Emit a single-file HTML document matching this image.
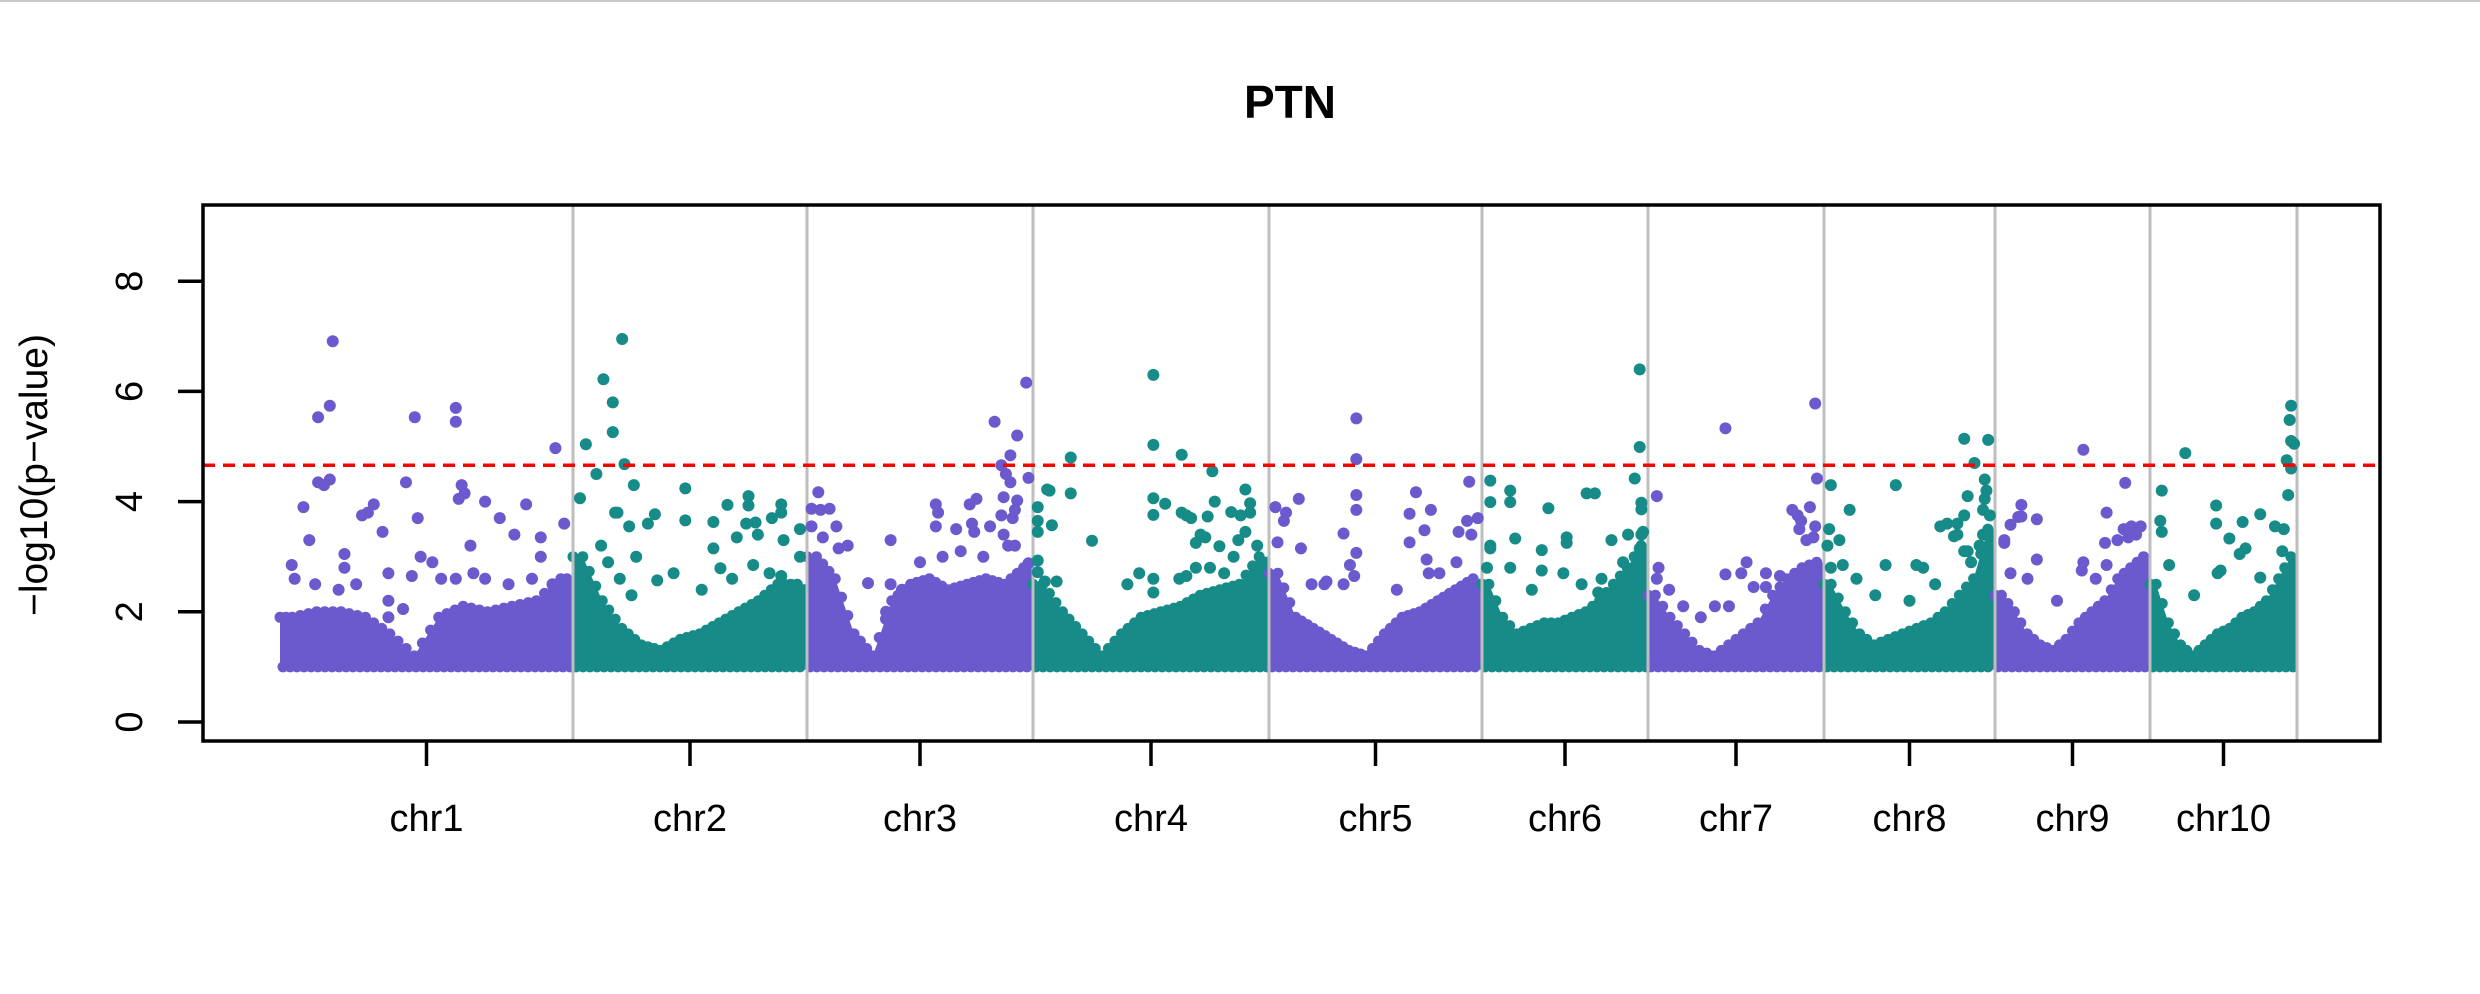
<!DOCTYPE html>
<html><head><meta charset="utf-8">
<style>
html,body{margin:0;padding:0;background:#fff;}
svg{display:block;font-family:"Liberation Sans",Arial,sans-serif;}
</style></head>
<body>
<svg id="chart" width="2480" height="994" viewBox="0 0 2480 994" xmlns="http://www.w3.org/2000/svg">
<rect x="0" y="0" width="2480" height="994" fill="#fff"/>
<line x1="0" y1="1" x2="2480" y2="1" stroke="#c8c8c8" stroke-width="2"/>
<text x="1290" y="118" text-anchor="middle" font-size="46" font-weight="bold">PTN</text>
<text transform="translate(47,475) rotate(-90)" text-anchor="middle" font-size="39">−log10(p−value)</text>
<g id="bands"></g>
<g id="seps"></g>
<g id="pts"></g>
<g id="axes"></g>
</svg>
<script>
const chrNames = ["chr1","chr2","chr3","chr4","chr5","chr6","chr7","chr8","chr9","chr10"];
const chrLen = [293,234,226,236,213,166,176,171,155,147];
const yTicks = [0,2,4,6,8];
const threshold = 4.66;
const bandEnv = [
 [1.9,2.0,2.0,1.9,1.6,1.2,1.9,2.1,2.0,2.1,2.2,2.6],
 [3.0,2.2,1.7,1.4,1.3,1.5,1.6,1.8,2.0,2.2,2.5,2.5],
 [3.0,2.6,1.6,1.2,2.2,2.5,2.6,2.4,2.5,2.6,2.5,2.8],
 [2.5,2.0,1.6,1.2,1.6,1.9,2.0,2.1,2.3,2.4,2.5,3.0],
 [2.7,1.9,1.7,1.5,1.3,1.2,1.6,1.9,2.0,2.2,2.4,2.6],
 [2.5,1.9,1.6,1.7,1.8,1.8,1.9,2.0,2.2,2.5,2.8,3.2],
 [2.3,1.9,1.6,1.3,1.2,1.4,1.6,1.8,2.3,2.6,2.8,2.9],
 [2.5,2.0,1.6,1.4,1.5,1.6,1.7,1.8,2.0,2.3,2.6,3.5],
 [2.3,2.0,1.6,1.4,1.3,1.5,1.8,2.0,2.2,2.6,2.8,3.0],
 [2.5,1.8,1.4,1.2,1.4,1.6,1.7,1.9,2.0,2.2,2.6,3.0]
];
const chr1Pts = [[.18,6.91],[.17,5.74],[.13,5.53],[.46,5.53],[.60,5.7],[.60,5.45],[.94,4.97],[.13,4.35],[.15,4.3],[.17,4.4],[.43,4.35],[.62,4.3],[.70,4.0],[.84,3.95],[.08,3.9],[.32,3.95],[.47,3.7],[.75,3.7],[.97,3.6],[.35,3.45],[.80,3.4],[.89,3.35],[.10,3.3],[.65,3.2],[.22,3.05],[.48,3.0],[.89,3.0],[.04,2.85],[.22,2.8],[.37,2.7],[.45,2.65],[.37,2.2],[.42,2.05],[.37,1.9],[.30,3.8],[.28,3.75],[.63,4.15],[.61,4.05],[.52,2.9],[.55,2.6],[.70,2.6],[.05,2.6],[.12,2.5],[.20,2.4],[.26,2.5],[.60,2.6],[.66,2.7],[.78,2.5],[.86,2.6],[.93,2.5]];
const chr2Pts = [[.21,6.95],[.13,6.22],[.17,5.80],[.17,5.26],[.055,5.04],[.22,4.68],[.10,4.5],[.26,4.3],[.03,4.06],[.48,4.24],[.18,3.8],[.19,3.8],[.35,3.77],[.32,3.6],[.24,3.55],[.66,3.94],[.75,4.1],[.75,3.93],[.89,3.95],[.89,3.8],[.60,3.63],[.74,3.6],[.78,3.62],[.85,3.7],[.48,3.66],[.97,3.5],[.70,3.35],[.79,3.4],[.90,3.3],[.60,3.15],[.27,3.0],[.63,2.79],[.43,2.7],[.36,2.57],[.77,2.85],[.84,2.7],[.89,2.65],[.97,3.0],[.12,3.2],[.15,2.9],[.20,2.6],[.25,2.3],[.55,2.4],[.68,2.6]];
const chr3Pts = [[.97,6.16],[.83,5.45],[.93,5.2],[.90,4.84],[.86,4.66],[.88,4.5],[.90,4.35],[.98,4.43],[.87,4.08],[.93,4.02],[.05,4.17],[.02,3.87],[.06,3.85],[.10,3.87],[.57,3.95],[.58,3.8],[.72,3.95],[.75,4.05],[.86,3.75],[.91,3.7],[.92,3.85],[.02,3.55],[.13,3.55],[.57,3.55],[.66,3.5],[.73,3.6],[.74,3.45],[.81,3.55],[.07,3.35],[.37,3.3],[.18,3.2],[.14,3.15],[.87,3.4],[.89,3.2],[.92,3.2],[.98,2.88],[.27,2.52],[.37,2.5],[.42,2.4],[.35,2.0],[.42,2.05],[.50,2.9],[.60,3.0],[.68,3.1],[.78,3.0]];
const chr4Pts = [[.51,6.3],[.51,5.03],[.63,4.85],[.16,4.8],[.06,4.22],[.07,4.2],[.76,4.55],[.02,3.9],[.02,3.65],[.02,3.45],[.08,3.57],[.16,4.15],[.25,3.29],[.51,4.06],[.51,3.76],[.56,3.96],[.63,3.8],[.65,3.75],[.67,3.7],[.77,4.0],[.74,3.73],[.84,3.81],[.90,4.22],[.92,3.97],[.88,3.75],[.92,3.8],[.71,3.4],[.73,3.35],[.69,3.25],[.79,3.19],[.87,3.3],[.90,3.45],[.02,2.93],[.02,2.72],[.05,2.55],[.10,2.55],[.51,2.6],[.51,2.35],[.62,2.6],[.65,2.65],[.69,2.8],[.75,2.8],[.81,2.7],[.40,2.5],[.45,2.7],[.85,3.0],[.95,3.2]];
const chr5Pts = [[.41,5.51],[.41,4.77],[.41,4.12],[.41,3.85],[.41,3.07],[.03,3.9],[.08,3.8],[.07,3.65],[.14,4.05],[.04,3.26],[.15,3.15],[.35,3.42],[.69,4.17],[.66,3.78],[.76,3.85],[.73,3.48],[.94,4.36],[.98,3.7],[.93,3.65],[.89,3.45],[.95,3.4],[.66,3.26],[.74,2.95],[.75,2.7],[.38,2.85],[.40,2.65],[.20,2.5],[.26,2.5],[.27,2.55],[.35,2.5],[.60,2.4],[.80,2.7],[.88,2.9]];
const chr6Pts = [[.95,6.4],[.95,4.99],[.92,4.42],[.05,4.38],[.17,4.2],[.05,3.99],[.17,3.99],[.40,3.88],[.63,4.15],[.68,4.15],[.96,3.86],[.96,3.98],[.05,3.2],[.05,3.15],[.20,3.33],[.36,3.12],[.51,3.35],[.51,3.25],[.78,3.3],[.88,3.4],[.96,3.4],[.97,3.45],[.95,3.15],[.03,2.8],[.17,2.8],[.36,2.75],[.49,2.7],[.72,2.6],[.70,2.35],[.30,2.4],[.60,2.5],[.85,2.9]];
const chr7Pts = [[.44,5.33],[.95,5.78],[.96,4.42],[.05,4.1],[.82,3.85],[.92,3.9],[.85,3.75],[.87,3.65],[.86,3.5],[.95,3.55],[.90,3.3],[.94,3.35],[.06,2.8],[.05,2.6],[.44,2.68],[.56,2.9],[.53,2.7],[.67,2.7],[.60,2.45],[.67,2.45],[.38,2.1],[.46,2.1],[.75,2.65],[.12,2.4],[.20,2.1],[.30,1.9]];
const chr8Pts = [[.42,4.3],[.04,4.3],[.15,3.85],[.03,3.5],[.02,3.2],[.09,3.3],[.36,2.85],[.54,2.85],[.04,2.8],[.11,2.85],[.19,2.6],[.82,5.14],[.96,5.12],[.88,4.7],[.94,4.4],[.95,4.2],[.94,4.05],[.93,3.85],[.97,3.75],[.84,4.1],[.82,3.75],[.72,3.6],[.78,3.4],[.84,3.1],[.86,2.9],[.93,3.4],[.91,3.2],[.68,3.55],[.76,3.37],[.78,3.6],[.58,2.8],[.82,3.1],[.30,2.3],[.50,2.2],[.65,2.5]];
const chr9Pts = [[.57,4.94],[.84,4.34],[.17,3.94],[.17,3.73],[.15,3.72],[.27,3.68],[.10,3.58],[.72,3.8],[.06,3.3],[.06,3.25],[.83,3.5],[.88,3.55],[.94,3.55],[.91,3.4],[.86,3.35],[.79,3.3],[.71,3.25],[.27,2.95],[.57,2.9],[.56,2.75],[.72,2.85],[.21,2.6],[.10,2.7],[.40,2.2],[.65,2.6]];
const chr10Pts = [[.24,4.88],[.96,5.74],[.95,5.48],[.96,5.1],[.98,5.05],[.93,4.75],[.96,4.6],[.94,4.12],[.08,4.2],[.07,3.65],[.08,3.45],[.45,3.93],[.45,3.6],[.75,3.77],[.63,3.63],[.54,3.33],[.65,3.15],[.61,3.05],[.85,3.55],[.91,3.5],[.13,2.85],[.48,2.75],[.46,2.7],[.75,2.62],[.30,2.3],[.90,3.1]];
const chrPts = [chr1Pts,chr2Pts,chr3Pts,chr4Pts,chr5Pts,chr6Pts,chr7Pts,chr8Pts,chr9Pts,chr10Pts];

const NS = "http://www.w3.org/2000/svg";
const PL = 203, PR = 2380, PT = 205, PB = 741;
const X0 = 280, PXPERUNIT = 1.0;
const Y0 = 722, YPX = 55.1;
const COLORS = ["#6A5ACD","#178B87"];
function xScale(c){ return X0 + c*PXPERUNIT; }
function yScale(v){ return Y0 - v*YPX; }
function mk(tag, attrs, parent){
  const el = document.createElementNS(NS, tag);
  for (const k in attrs) el.setAttribute(k, attrs[k]);
  parent.appendChild(el);
  return el;
}
const bands = document.getElementById('bands');
const seps = document.getElementById('seps');
const pts = document.getElementById('pts');
const axes = document.getElementById('axes');

const frame = mk('rect',{x:PL,y:PT,width:PR-PL,height:PB-PT,fill:'none',stroke:'#000','stroke-width':3.5},axes);



let cum = 0;
const starts = [];
chrLen.forEach(L=>{ starts.push(cum); cum += L; });

chrNames.forEach((name,i)=>{
  const s = starts[i], L = chrLen[i], col = COLORS[i%2];
  const g = mk('g',{},bands);
  
  
  const env = bandEnv[i], nb = env.length;
  const outline = [[xScale(s), yScale(env[0])]];
  env.forEach((top,b)=>{ outline.push([xScale(s + L*(b+0.5)/nb), yScale(top)]); });
  outline.push([xScale(s+L), yScale(env[nb-1])]);
  const yb = yScale(1.0);
  let d = 'M' + outline[0][0] + ',' + yb;
  outline.forEach(p=>{ d += ' L' + p[0] + ',' + p[1]; });
  d += ' L' + outline[outline.length-1][0] + ',' + yb + ' Z';
  const poly = mk('path',{d:d,fill:col},g);
  
  
  // scalloped edges
  for (let k=0;k<outline.length-1;k++){
    const a = outline[k], b2 = outline[k+1];
    const n = Math.max(1, Math.round((b2[0]-a[0])/7));
    for (let j=0;j<n;j++){
      const t = j/n;
      const c = mk('circle',{cx:a[0]+(b2[0]-a[0])*t, cy:a[1]+(b2[1]-a[1])*t, r:5.5, fill:col},g);
      
      
    }
  }
  for (let x = xScale(s)+3; x < xScale(s+L); x += 7){
    const c = mk('circle',{cx:x,cy:yb,r:5.5,fill:col},g);
    
    
  }
  const pg = mk('g',{},pts);
  
  
  chrPts[i].forEach(p=>{
    const c = mk('circle',{cx:xScale(s + L*p[0]),cy:yScale(p[1]),r:6,fill:col},pg);
    
    
  });
  const sx = xScale(s+L);
  const ln = mk('line',{x1:sx,y1:PT,x2:sx,y2:PB,stroke:'#bebebe','stroke-width':3},seps);
  
  
  const tx = xScale(s + L/2);
  const tk = mk('line',{x1:tx,y1:PB,x2:tx,y2:766,stroke:'#000','stroke-width':3.5},axes);
  
  
  const lb = mk('text',{x:tx,y:831,'text-anchor':'middle','font-size':38},axes);
  lb.textContent = name;
  
  
});

const th = mk('line',{x1:PL,y1:yScale(threshold),x2:PR,y2:yScale(threshold),stroke:'#ff0000','stroke-width':3.5,'stroke-dasharray':'12 8'},pts);



yTicks.forEach(t=>{
  const y = yScale(t);
  const l = mk('line',{x1:178,y1:y,x2:PL,y2:y,stroke:'#000','stroke-width':3.5},axes);
  
  
  const tx = mk('text',{transform:`translate(142,${y}) rotate(-90)`,'text-anchor':'middle','font-size':38},axes);
  tx.textContent = String(t);
  
  
});
</script>
</body></html>
